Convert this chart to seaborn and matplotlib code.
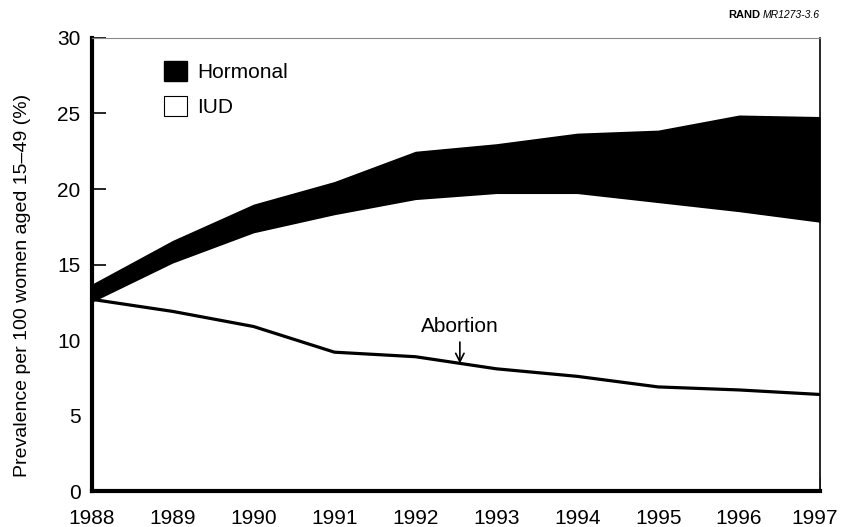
import numpy as np
import pandas as pd
import matplotlib.pyplot as plt
import matplotlib.transforms as mtransforms
import seaborn as sns
from matplotlib.patches import Patch

# values
years = [1988, 1989, 1990, 1991, 1992, 1993, 1994, 1995, 1996, 1997]
iud = [12.5, 15.1, 17.1, 18.3, 19.3, 19.7, 19.7, 19.1, 18.5, 17.8]
hormonal = [1.2, 1.5, 1.9, 2.2, 3.2, 3.3, 4.0, 4.8, 6.4, 7.0]
abortion = [12.7, 11.9, 10.9, 9.2, 8.9, 8.1, 7.6, 6.9, 6.7, 6.4]

df = pd.DataFrame({'Year': years, 'IUD': iud, 'Hormonal': hormonal, 'Abortion': abortion})

sns.set_theme(style="ticks", rc={'text.color': 'black', 'axes.labelcolor': 'black',
                                 'xtick.color': 'black', 'ytick.color': 'black'})
plt.rcParams['font.family'] = ['Liberation Sans', 'DejaVu Sans']

fs = 15
fig = plt.figure(figsize=(8.41, 5.27), dpi=100)
ax = fig.add_axes([0.109, 0.068, 0.866, 0.86])

ax.stackplot(df['Year'], df['IUD'], df['Hormonal'], colors=['white', 'black'], linewidth=0)
sns.lineplot(data=df, x='Year', y='Abortion', color='black', linewidth=2.3, ax=ax)

ax.set_xlim(1988, 1997)
ax.set_ylim(0, 30)
ax.set_xticks(years)
ax.set_yticks(range(0, 31, 5))
ax.tick_params(axis='both', direction='in', length=10, width=1.2, labelsize=fs, colors='black')
ax.tick_params(axis='x', pad=13)
ax.tick_params(axis='y', pad=8)
ax.set_xlabel('')
ax.set_ylabel('Prevalence per 100 women aged 15\u201349 (%)', fontsize=14)
ax.yaxis.set_label_coords(-0.083, 0.455)

# nudge last year label so it stays inside the picture
last = ax.get_xticklabels()[-1]
last.set_transform(last.get_transform() + mtransforms.ScaledTranslation(-4 / 72, 0, fig.dpi_scale_trans))

for side in ['left', 'bottom']:
    ax.spines[side].set_linewidth(3)
    ax.spines[side].set_color('black')
ax.spines['right'].set_linewidth(1.2)
ax.spines['right'].set_color('black')
ax.spines['top'].set_linewidth(0.8)
ax.spines['top'].set_color('#888888')

ax.annotate('Abortion', xy=(1992.55, 8.45), xytext=(1992.55, 10.9),
            ha='center', va='center', fontsize=fs,
            arrowprops=dict(arrowstyle='->', color='black', lw=1.2, shrinkA=2, shrinkB=0))

handles = [Patch(facecolor='black', edgecolor='black', label='Hormonal'),
           Patch(facecolor='white', edgecolor='black', linewidth=0.8, label='IUD')]
ax.legend(handles=handles, loc='upper left', bbox_to_anchor=(0.073, 0.99), frameon=False,
          fontsize=fs, handlelength=1.1, handleheight=1.1, handletextpad=0.5, labelspacing=0.65)

fig.text(0.904, 0.972, 'RAND', fontsize=8, fontweight='bold', ha='right', va='center')
fig.text(0.975, 0.972, 'MR1273-3.6', fontsize=7.5, fontstyle='italic', ha='right', va='center')

plt.savefig('out.png', dpi=100)
